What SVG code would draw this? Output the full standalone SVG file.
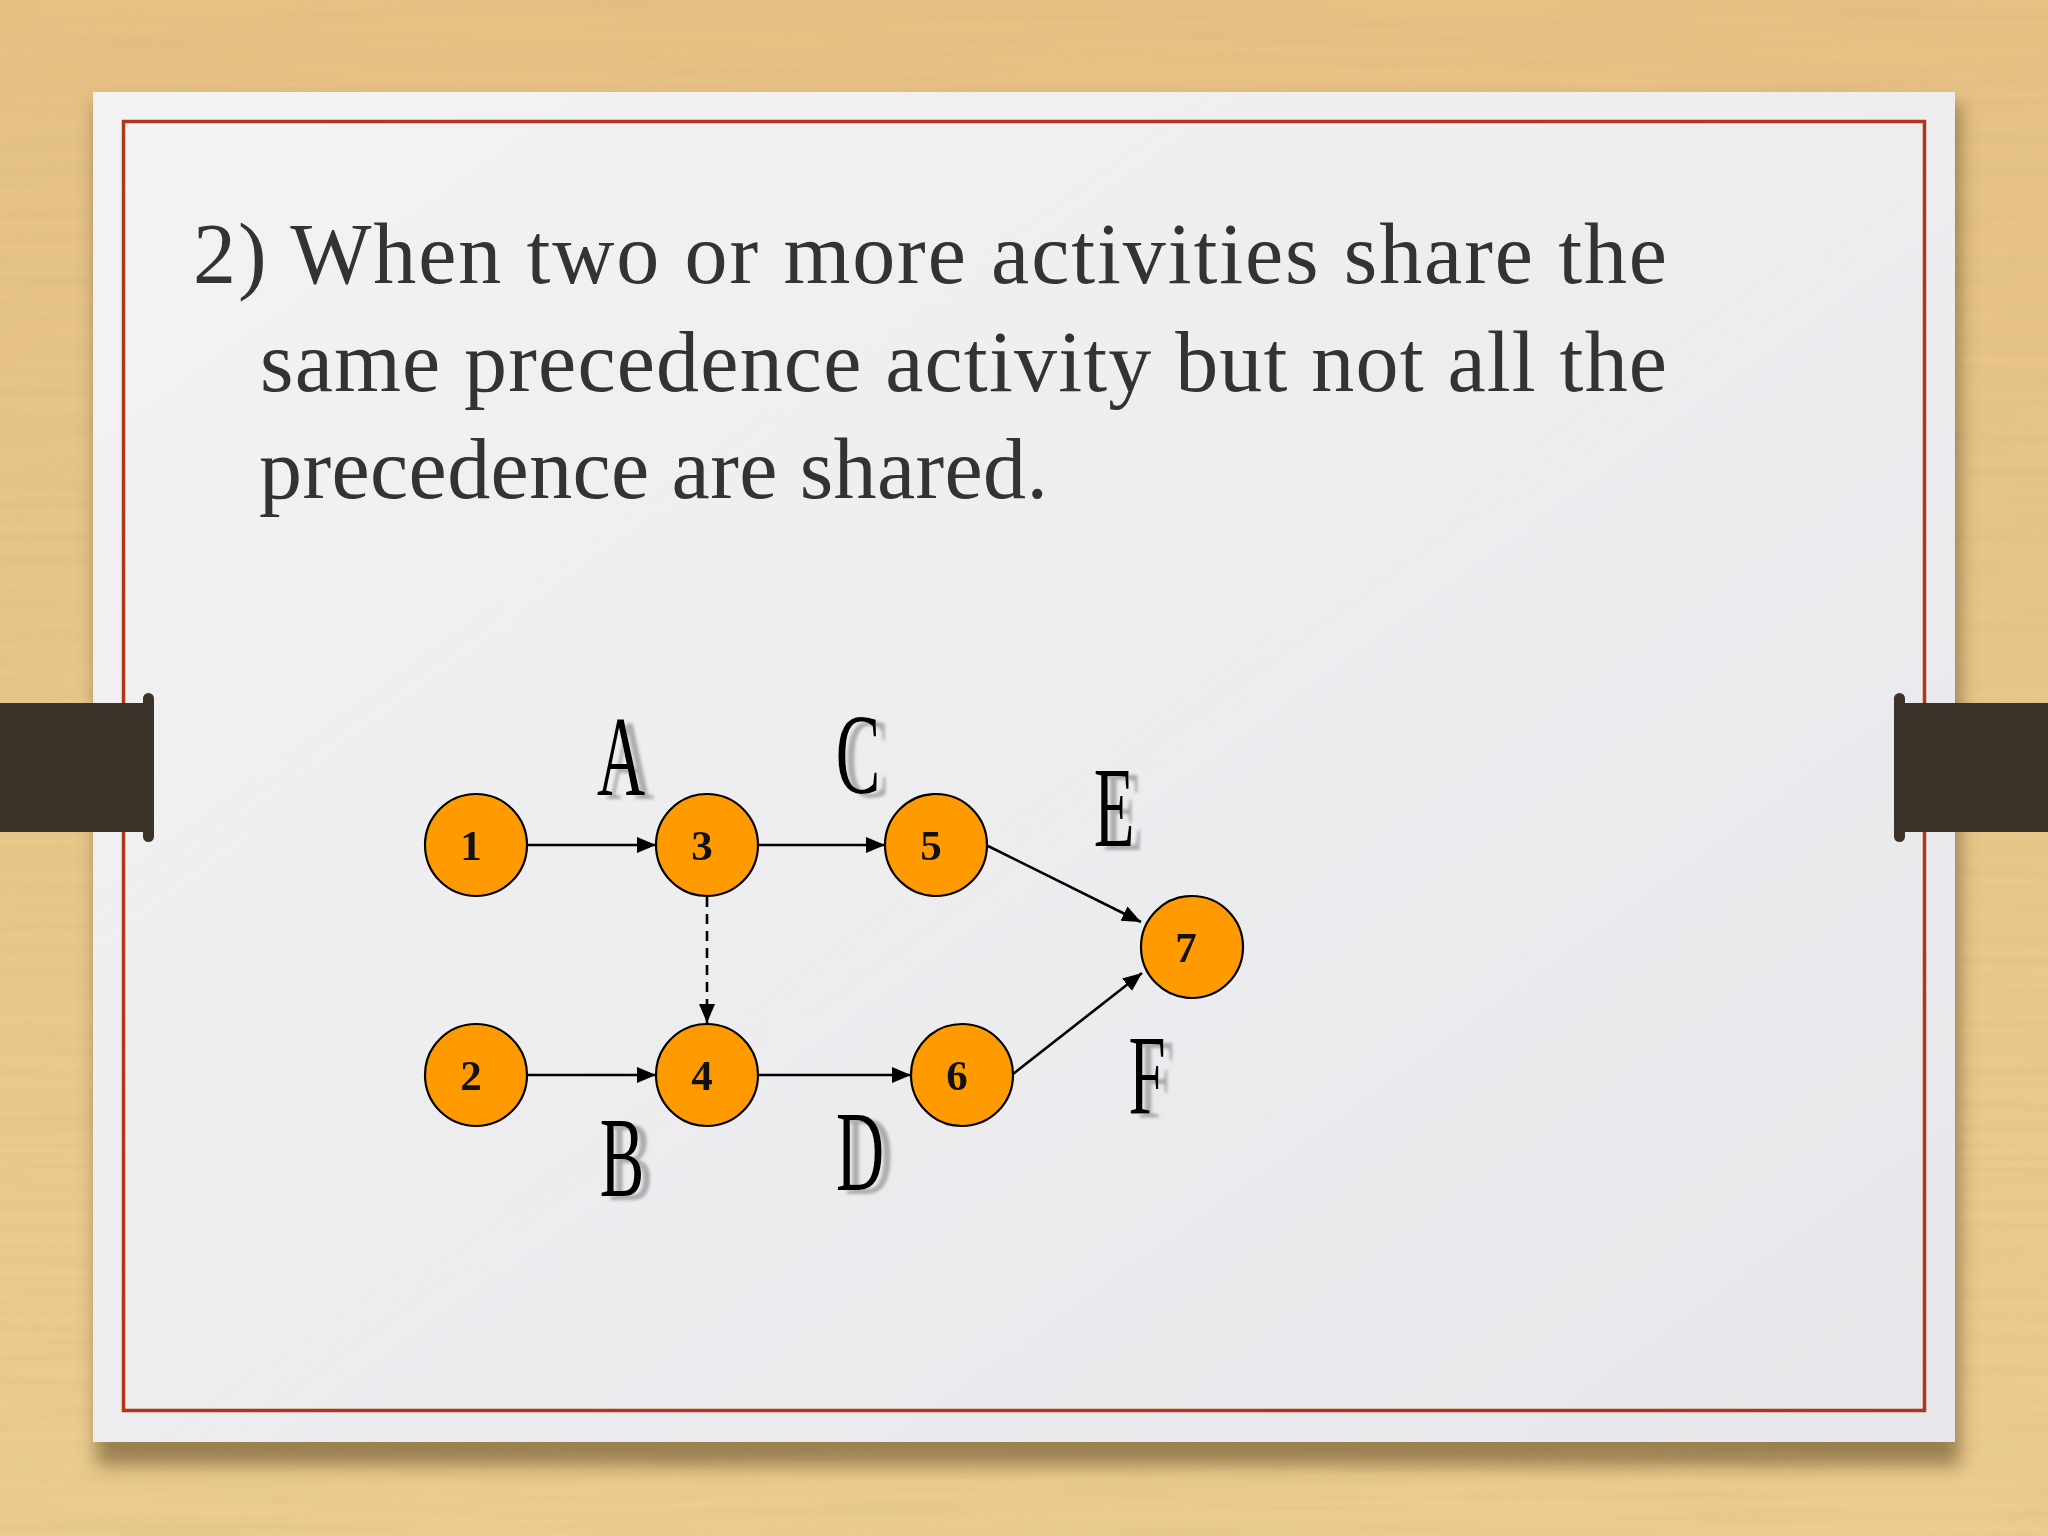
<svg xmlns="http://www.w3.org/2000/svg" width="2048" height="1536" viewBox="0 0 2048 1536">
  <defs>
    <linearGradient id="wood" x1="0" y1="0" x2="0" y2="1">
      <stop offset="0" stop-color="#E6C184"/>
      <stop offset="0.5" stop-color="#E9C78B"/>
      <stop offset="1" stop-color="#ECCD8F"/>
    </linearGradient>
    <linearGradient id="paper" x1="0" y1="0" x2="1" y2="1">
      <stop offset="0" stop-color="#F3F3F5"/>
      <stop offset="1" stop-color="#E7E6EA"/>
    </linearGradient>
    <filter id="grain" x="0" y="0" width="100%" height="100%">
      <feTurbulence type="fractalNoise" baseFrequency="0.003 0.09" numOctaves="3" seed="4"/>
      <feColorMatrix type="matrix" values="0 0 0 0 0.55  0 0 0 0 0.40  0 0 0 0 0.18  0 0 0 0.9 -0.3"/>
    </filter>
    <filter id="pshadow" x="-5%" y="-5%" width="110%" height="115%">
      <feGaussianBlur stdDeviation="9"/>
    </filter>
    <filter id="lshadow" x="-30%" y="-30%" width="160%" height="160%">
      <feGaussianBlur in="SourceAlpha" stdDeviation="1.6" result="b"/>
      <feOffset in="b" dx="9" dy="4" result="o"/>
      <feFlood flood-color="#8a8a8a" flood-opacity="0.65"/>
      <feComposite in2="o" operator="in" result="s"/>
      <feMerge>
        <feMergeNode in="s"/>
        <feMergeNode in="SourceGraphic"/>
      </feMerge>
    </filter>
    <marker id="arrow" markerUnits="userSpaceOnUse" markerWidth="20" markerHeight="18" refX="19" refY="8" orient="auto">
      <path d="M0,0 L19,8 L0,16 Z" fill="#000"/>
    </marker>
    <style>
      .title { font-family: "Liberation Serif", "Times New Roman", serif; font-size: 86px; fill: #333333; }
      .node circle { fill: #FF9A00; stroke: #000; stroke-width: 2.2; }
      .node text { font-family: "Liberation Serif", "Times New Roman", serif; font-weight: bold; font-size: 43px; fill: #111; text-anchor: middle; }
      .edge { stroke: #000; stroke-width: 2.6; fill: none; marker-end: url(#arrow); }
      .dummy { stroke-dasharray: 10 7; }
      .lbl { font-family: "Liberation Serif", "Times New Roman", serif; font-size: 115px; fill: #000; text-anchor: middle; }
      .tab { fill: #3B322A; }
    </style>
  </defs>

  <!-- wood background -->
  <rect x="0" y="0" width="2048" height="1536" fill="url(#wood)"/>
  <rect x="0" y="0" width="2048" height="1536" filter="url(#grain)" opacity="0.35"/>

  <!-- paper shadow and paper -->
  <rect x="96" y="104" width="1864" height="1362" fill="#5a4420" opacity="0.55" filter="url(#pshadow)"/>
  <rect x="93" y="92" width="1862" height="1350" fill="url(#paper)"/>
  <rect x="123.5" y="121.5" width="1801" height="1289" fill="none" stroke="#B2361A" stroke-width="3.5"/>

  <!-- side tabs -->
  <g id="tab-left">
    <rect class="tab" x="0" y="703" width="148" height="129"/>
    <rect class="tab" x="143" y="693" width="11" height="149" rx="5.5"/>
  </g>
  <g id="tab-right">
    <rect class="tab" x="1900" y="703" width="148" height="129"/>
    <rect class="tab" x="1894" y="693" width="11" height="149" rx="5.5"/>
  </g>

  <!-- title text -->
  <g id="title">
    <text class="title" x="193" y="283" textLength="1474" lengthAdjust="spacing">2) When two or more activities share the</text>
    <text class="title" x="260" y="391" textLength="1407" lengthAdjust="spacing">same precedence activity but not all the</text>
    <text class="title" x="259" y="498" textLength="789" lengthAdjust="spacing">precedence are shared.</text>
  </g>

  <!-- connectors -->
  <g id="connectors">
    <line class="edge" x1="527" y1="845" x2="656" y2="845"/>
    <line class="edge" x1="758" y1="845" x2="885" y2="845"/>
    <line class="edge dummy" x1="707" y1="897" x2="707" y2="1023"/>
    <line class="edge" x1="527" y1="1075" x2="656" y2="1075"/>
    <line class="edge" x1="758" y1="1075" x2="911" y2="1075"/>
    <line class="edge" x1="988" y1="846" x2="1141" y2="922"/>
    <line class="edge" x1="1013" y1="1074" x2="1142" y2="973"/>
  </g>

  <!-- activity labels -->
  <g id="labels" filter="url(#lshadow)">
    <text class="lbl" transform="translate(621,795) scale(0.58,1)">A</text>
    <text class="lbl" transform="translate(858,793) scale(0.58,1)">C</text>
    <text class="lbl" transform="translate(1114,846) scale(0.58,1)">E</text>
    <text class="lbl" transform="translate(622,1196) scale(0.58,1)">B</text>
    <text class="lbl" transform="translate(860,1190) scale(0.58,1)">D</text>
    <text class="lbl" transform="translate(1147,1114) scale(0.58,1)">F</text>
  </g>

  <!-- nodes -->
  <g id="node-1" class="node"><circle cx="476" cy="845" r="51"/><text x="471" y="860">1</text></g>
  <g id="node-3" class="node"><circle cx="707" cy="845" r="51"/><text x="702" y="860">3</text></g>
  <g id="node-5" class="node"><circle cx="936" cy="845" r="51"/><text x="931" y="860">5</text></g>
  <g id="node-7" class="node"><circle cx="1192" cy="947" r="51"/><text x="1186" y="962">7</text></g>
  <g id="node-2" class="node"><circle cx="476" cy="1075" r="51"/><text x="471" y="1090">2</text></g>
  <g id="node-4" class="node"><circle cx="707" cy="1075" r="51"/><text x="702" y="1090">4</text></g>
  <g id="node-6" class="node"><circle cx="962" cy="1075" r="51"/><text x="957" y="1090">6</text></g>
</svg>
